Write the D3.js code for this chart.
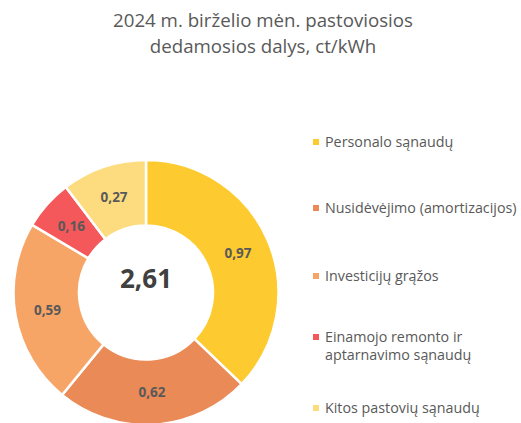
<!DOCTYPE html>
<html>
<head>
<meta charset="utf-8">
<script src="https://cdn.jsdelivr.net/npm/d3@7"></script>
<style>
  body { margin: 0; background: #fff; }
  text { font-family: "Open Sans", "DejaVu Sans", sans-serif; }
</style>
</head>
<body>
<div id="chart"></div>
<script>
const WIDTH = 521, HEIGHT = 423;

const categories = [
    "Personalo sąnaudų",
    "Nusidėvėjimo (amortizacijos)",
    "Investicijų grąžos",
    "Einamojo remonto ir aptarnavimo sąnaudų",
    "Kitos pastovių sąnaudų"
];
const values = [0.97, 0.62, 0.59, 0.16, 0.27];
const valueLabels = ["0,97", "0,62", "0,59", "0,16", "0,27"];
const totalLabel = "2,61";
const legendLines = [
    ["Personalo sąnaudų"],
    ["Nusidėvėjimo (amortizacijos)"],
    ["Investicijų grąžos"],
    ["Einamojo remonto ir", "aptarnavimo sąnaudų"],
    ["Kitos pastovių sąnaudų"]
];
const titleLines = ["2024 m. birželio mėn. pastoviosios", "dedamosios dalys, ct/kWh"];

const COLORS = ["#FDCA30", "#E98A57", "#F6A566", "#F4585A", "#FDDC7F"];
const TEXT_COLOR = "#595959";

const CX = 146, CY = 292.5, R_OUT = 132.5, R_IN = 67;

const svg = d3.select("#chart")
    .append("svg")
    .attr("width", WIDTH)
    .attr("height", HEIGHT);

// Title
svg.append("g")
    .selectAll("text")
    .data(titleLines)
    .join("text")
    .attr("x", 263)
    .attr("y", (d, i) => 27 + i * 26)
    .attr("text-anchor", "middle")
    .style("font-size", "18.7px")
    .style("fill", TEXT_COLOR)
    .text(d => d);

const color = d3.scaleOrdinal().domain(categories).range(COLORS);

const pie = d3.pie()
    .value(d => d.value)
    .sort(null);

const data = categories.map((c, i) => ({ name: c, value: values[i], label: valueLabels[i] }));

const arc = d3.arc().innerRadius(R_IN).outerRadius(R_OUT);
const labelArc = d3.arc().innerRadius(100).outerRadius(100);

const g = svg.append("g")
    .attr("transform", `translate(${CX},${CY})`);

// Slices
g.selectAll("path")
    .data(pie(data))
    .join("path")
    .attr("d", arc)
    .attr("fill", d => color(d.data.name))
    .attr("stroke", "#fff")
    .attr("stroke-width", 2.5);

// Slice values
g.selectAll("text.value")
    .data(pie(data))
    .join("text")
    .attr("class", "value")
    .attr("transform", d => `translate(${labelArc.centroid(d)})`)
    .attr("dy", "0.35em")
    .attr("text-anchor", "middle")
    .style("font-size", "13.5px")
    .style("font-weight", "bold")
    .style("fill", TEXT_COLOR)
    .text(d => d.data.label);

// Total in the middle
g.append("text")
    .attr("x", 0)
    .attr("y", -5)
    .attr("text-anchor", "middle")
    .style("font-size", "26px")
    .style("font-weight", "bold")
    .style("fill", "#404040")
    .text(totalLabel);

// Legend
const legendY = [142, 208, 276, 346, 408];
const legend = svg.append("g")
    .attr("class", "legend")
    .selectAll("g")
    .data(data)
    .join("g")
    .attr("transform", (d, i) => `translate(313,${legendY[i]})`);

legend.append("rect")
    .attr("x", 0)
    .attr("y", (d, i) => -3 - (legendLines[i].length - 1) * 9)
    .attr("width", 6)
    .attr("height", 6)
    .attr("fill", d => color(d.name));

legend.append("text")
    .attr("x", 12)
    .style("font-size", "14.3px")
    .style("fill", TEXT_COLOR)
    .each(function(d, i) {
        const lines = legendLines[i];
        const t = d3.select(this);
        lines.forEach((line, j) => {
            t.append("tspan")
                .attr("x", 12)
                .attr("y", (j - (lines.length - 1) / 2) * 18)
                .attr("dy", "0.35em")
                .text(line);
        });
    });
</script>
</body>
</html>
